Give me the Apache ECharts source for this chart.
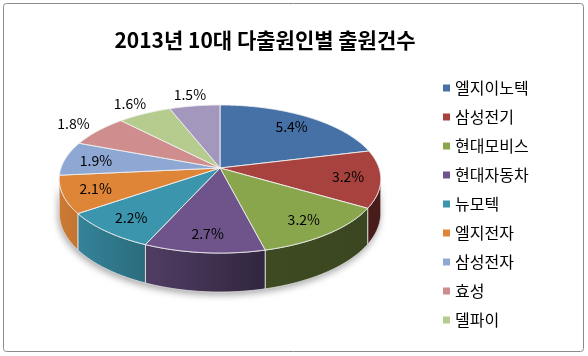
<!DOCTYPE html>
<html><head><meta charset="utf-8">
<script src="https://cdn.jsdelivr.net/npm/echarts@6/dist/echarts.min.js"></script>
<style>html,body{margin:0;padding:0;background:#fff}#c{width:588px;height:356px}</style>
</head><body><div id="c"></div>
<script>
const titleText = '2013년 10대 다출원인별 출원건수';
const categories = ['엘지이노텍','삼성전기','현대모비스','현대자동차','뉴모텍','엘지전자','삼성전자','효성','델파이','10위'];
const values = [5.4, 3.2, 3.2, 2.7, 2.2, 2.1, 1.9, 1.8, 1.6, 1.5];
const legendShown = categories.slice(0, 9);
const colors = ['#4571A6','#A8423F','#8AA64C','#6E548A','#3B95AD','#DE8538','#8FA8D3','#CF8E8D','#B6CC8E','#A497BE'];

const CX = 220, CY = 168, RX = 159, RY = 72.4, K = 0.1487, D = 33.2;
const FONT = '"Noto Sans CJK KR", "Noto Sans", sans-serif';
const total = values.reduce((a, b) => a + b, 0);
const starts = [];
{ let acc = 0; values.forEach(v => { starts.push(acc / total * Math.PI * 2); acc += v; }); }
const TR = Math.acos(-K), TL = Math.PI * 2 - Math.acos(-K);

function proj(t, r) {
  const X = r * Math.sin(t), Z = r * Math.cos(t);
  const s = 1 / (1 + K * Z);
  return [CX + RX * X * s, CY - RY * Z * s, s];
}
function arc(a, b) {
  const pts = [];
  const n = Math.max(2, Math.ceil((b - a) / (Math.PI / 360)));
  for (let j = 0; j <= n; j++) pts.push(proj(a + (b - a) * j / n, 1));
  return pts;
}
function shade(hex, f) {
  const n = parseInt(hex.slice(1), 16);
  const r = Math.round(((n >> 16) & 255) * f), g = Math.round(((n >> 8) & 255) * f), b = Math.round((n & 255) * f);
  return 'rgb(' + r + ',' + g + ',' + b + ')';
}
function sideFactor(x) { return Math.max(0.42, Math.min(0.92, 0.92 - 0.47 * (x - 60) / 205)); }

function renderSlice(i) {
  const a = starts[i], b = a + values[i] / total * Math.PI * 2;
  const children = [];
  const fa = Math.max(a, TR), fb = Math.min(b, TL);
  if (fa < fb) {
    const top = arc(fa, fb);
    const pts = top.map(p => [p[0], p[1]]);
    for (let j = top.length - 1; j >= 0; j--) pts.push([top[j][0], top[j][1] + D * top[j][2]]);
    const xs = pts.map(p => p[0]);
    const x1 = Math.min.apply(null, xs), x2 = Math.max.apply(null, xs);
    children.push({
      type: 'polygon', shape: { points: pts }, z2: 1,
      style: {
        fill: { type: 'linear', x: x1, y: 0, x2: x2, y2: 0, global: true,
          colorStops: [{ offset: 0, color: shade(colors[i], sideFactor(x1)) }, { offset: 1, color: shade(colors[i], sideFactor(x2)) }] },
        stroke: 'rgba(235,235,235,0.8)', lineWidth: 1
      }
    });
  }
  const tpts = [[CX, CY]].concat(arc(a, b).map(p => [p[0], p[1]]));
  children.push({ type: 'polygon', shape: { points: tpts }, z2: 2,
    style: { fill: colors[i], stroke: 'rgba(240,240,240,0.9)', lineWidth: 1 } });
  const share = values[i] / total;
  const lp = proj((a + b) / 2, share < 0.072 ? 1.22 : 0.8);
  children.push({ type: 'text', z2: 3, x: lp[0], y: lp[1],
    style: { text: values[i].toFixed(1) + '%', font: '14px ' + FONT, fill: '#000', align: 'center', verticalAlign: 'middle' } });
  return { type: 'group', children: children };
}

function renderShadow() {
  const top = arc(TR, TL);
  const pts = top.map(p => [p[0], p[1]]);
  for (let j = top.length - 1; j >= 0; j--) pts.push([top[j][0], top[j][1] + D * top[j][2]]);
  return { type: 'polygon', shape: { points: pts },
    style: { fill: '#888', shadowBlur: 7, shadowColor: 'rgba(0,0,0,0.35)', shadowOffsetX: -1, shadowOffsetY: 3 } };
}

const series = [{
  type: 'custom', name: '_shadow', coordinateSystem: 'none', z: 1, silent: true,
  data: [[0]], renderItem: () => renderShadow()
}].concat(categories.map((name, i) => ({
  type: 'custom', name: name, coordinateSystem: 'none', z: 2,
  itemStyle: { color: colors[i] },
  data: [[values[i]]],
  renderItem: () => renderSlice(i)
})));

const chart = echarts.init(document.getElementById('c'), null, { renderer: 'canvas' });
chart.setOption({
  animation: false,
  backgroundColor: '#fff',
  title: { text: titleText, left: 260, top: 25, textAlign: 'center',
    textStyle: { fontFamily: FONT, fontSize: 21, fontWeight: 'bold', color: '#000' } },
  legend: {
    data: legendShown, orient: 'vertical', left: 438, top: 75,
    icon: 'rect', itemWidth: 7, itemHeight: 7, itemGap: 13,
    textStyle: { fontFamily: FONT, fontSize: 16, lineHeight: 16, color: '#000' }
  },
  graphic: [{ type: 'rect', shape: { x: 3.5, y: 3.5, width: 580, height: 348, r: 3 },
    style: { fill: 'none', stroke: '#8a8a8a', lineWidth: 1 }, z: 0 }],
  series: series
});
</script></body></html>
